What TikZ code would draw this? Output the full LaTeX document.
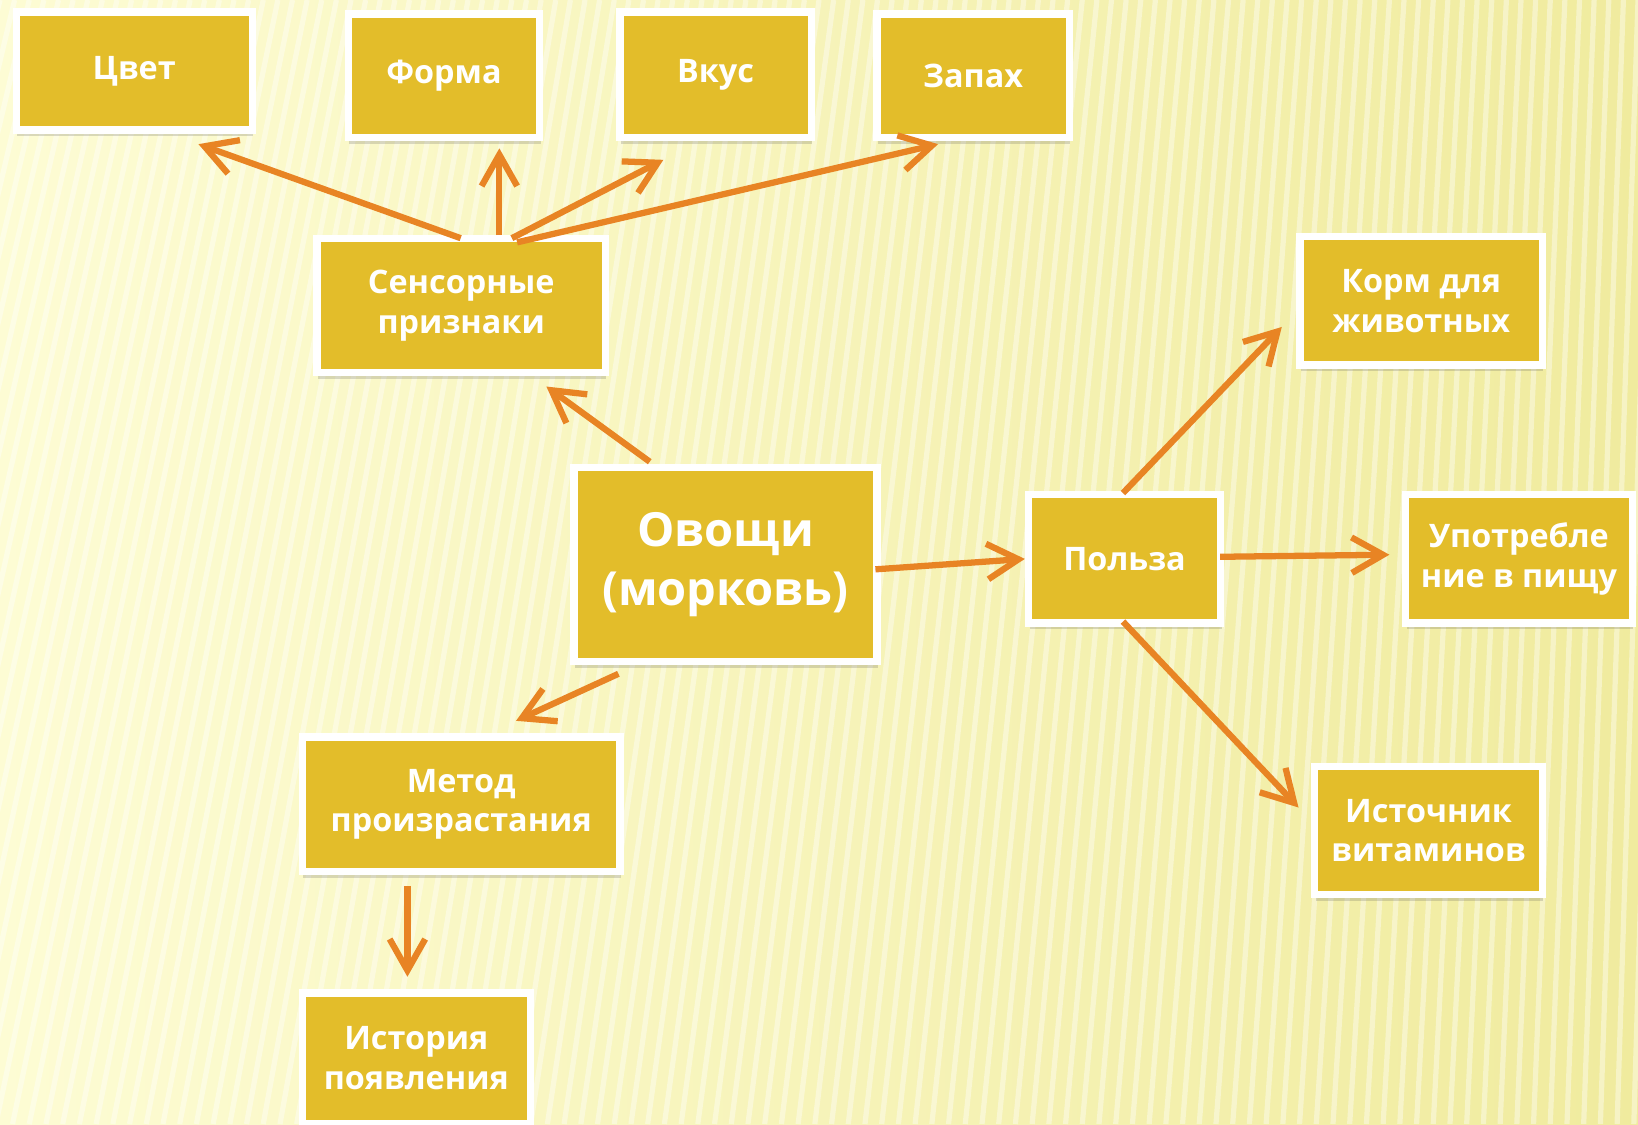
\documentclass[tikz,border=0pt]{standalone}
\usepackage{fontspec}
\setmainfont{Open Sans}
\usetikzlibrary{arrows.meta,calc,shadows}
\definecolor{boxfill}{RGB}{227,189,42}
\definecolor{arrowc}{RGB}{232,132,36}
\definecolor{bgl}{RGB}{253,252,212}
\definecolor{bgr}{RGB}{240,235,158}
\tikzset{
 box/.style={draw=white, line width=3.5pt, fill=boxfill, text=white,
   font=\bfseries\fontsize{15.5}{19}\selectfont, align=center, inner sep=0pt,
   drop shadow={shadow xshift=0.5pt, shadow yshift=-3pt, opacity=0.2, fill=black!70}},
 bigbox/.style={box, font=\bfseries\fontsize{22.5}{28.5}\selectfont},
 conn/.style={draw=arrowc, line width=3pt,
   -{Straight Barb[length=15pt,width=17pt,line width=3pt]}},
}
\begin{document}
\begin{tikzpicture}[x=0.5pt,y=-0.5pt]
\useasboundingbox (0,0) rectangle (1568,1076);
\clip (0,0) rectangle (1568,1076);
\shade[left color=bgl, right color=bgr] (0,0) rectangle (1568,1076);
\foreach \x in {0,14,...,1820} {
  \draw[white, opacity=0.4, line width=2.5pt] (\x,0) -- ({\x-260*(1-\x/1820)},1076);
}
% nodes
\node[box, minimum width=113pt, minimum height=56.5pt] (cvet) at (128.5,68) {Цвет};
\node[box, minimum width=91.5pt, minimum height=59pt] (forma) at (425,72.5) {Форма};
\node[box, minimum width=91.5pt, minimum height=60pt] (vkus) at (685,71.5) {Вкус};
\node[box, minimum width=92pt, minimum height=59pt] (zapah) at (931.5,72.5) {Запах};
\node[box, minimum width=138pt, minimum height=64pt] (sens) at (441.5,292.5) {Сенсорные\\признаки};
\node[bigbox, minimum width=145pt, minimum height=93pt] (ovo) at (694.5,540.5) {Овощи\\(морковь)};
\node[box, minimum width=92pt, minimum height=61.5pt] (polza) at (1076.5,535) {Польза};
\node[box, minimum width=116pt, minimum height=61.5pt] (korm) at (1360.5,288) {Корм для\\животных};
\node[box, minimum width=108.5pt, minimum height=61.5pt] (upot) at (1454,535) {Употребле\\ние в пищу};
\node[box, minimum width=109pt, minimum height=61.5pt] (vit) at (1367.5,795) {Источник\\витаминов};
\node[box, minimum width=152pt, minimum height=64.5pt] (metod) at (441.5,770) {Метод\\произрастания};
\node[box, minimum width=109pt, minimum height=62.5pt] (hist) at (398.5,1013) {История\\появления};
% connectors
\draw[conn] ($(sens)+(-0.5,-64.5)$) -- ($(cvet)+(61.5,70)$);
\draw[conn] ($(sens)+(36.5,-67.5)$) -- ($(forma)+(53,69.5)$);
\draw[conn] ($(sens)+(48.5,-64.5)$) -- ($(vkus)+(-50,81.5)$);
\draw[conn] ($(sens)+(53.5,-60.5)$) -- ($(zapah)+(-33.5,65.5)$);
\draw[conn] ($(ovo)+(-72.5,-98.5)$) -- ($(sens)+(81.5,77.5)$);
\draw[conn] ($(ovo)+(143.5,4.5)$) -- ($(polza)+(-95.5,0)$);
\draw[conn] ($(ovo)+(-102.5,104.5)$) -- ($(metod)+(52.5,-80)$);
\draw[conn] ($(metod)+(-51.5,78)$) -- ($(hist)+(-8.5,-78)$);
\draw[conn] ($(polza)+(-1.5,-63)$) -- ($(korm)+(-133.5,25)$);
\draw[conn] ($(polza)+(91.5,-2)$) -- ($(upot)+(-124,-4)$);
\draw[conn] ($(polza)+(-1.5,60)$) -- ($(vit)+(-124.5,-22)$);
\end{tikzpicture}
\end{document}
